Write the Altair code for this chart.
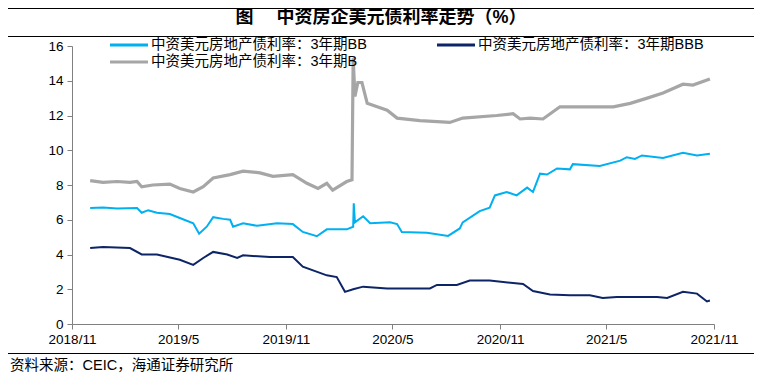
import altair as alt
import pandas as pd

series_names = ["中资美元房地产债利率：3年期BB", "中资美元房地产债利率：3年期BBB", "中资美元房地产债利率：3年期B"]
series_colors = ["#00B0F0", "#0D2566", "#A6A6A6"]
series_widths = [2.0, 2.0, 3.2]

bb_dates = ["2018-12-02","2018-12-24","2019-01-17","2019-02-20","2019-02-28","2019-03-11","2019-03-26","2019-04-17",
            "2019-05-04","2019-05-27","2019-06-06","2019-06-19","2019-06-30","2019-07-17","2019-07-29","2019-08-03",
            "2019-08-20","2019-09-13","2019-10-17","2019-11-13","2019-11-30","2019-12-24","2020-01-10","2020-02-13",
            "2020-02-24","2020-02-25","2020-02-27","2020-03-12","2020-03-24","2020-04-27","2020-05-09","2020-05-17",
            "2020-06-29","2020-08-04","2020-08-24","2020-08-29","2020-09-27","2020-10-14","2020-10-23","2020-11-12",
            "2020-11-29","2020-12-17","2020-12-27","2021-01-08","2021-01-20","2021-02-06","2021-02-28","2021-03-05",
            "2021-04-20","2021-05-25","2021-06-05","2021-06-19","2021-07-01","2021-08-06","2021-09-09","2021-10-03",
            "2021-10-25"]
bb_vals = [6.67,6.70,6.65,6.67,6.40,6.55,6.40,6.33,6.10,5.80,5.20,5.60,6.15,6.05,6.00,5.60,5.80,5.65,5.80,5.75,
           5.30,5.05,5.45,5.45,5.60,6.95,5.85,6.20,5.80,5.85,5.75,5.30,5.25,5.07,5.50,5.85,6.50,6.70,7.40,7.60,
           7.40,7.85,7.60,8.65,8.60,8.95,8.90,9.20,9.10,9.40,9.60,9.50,9.70,9.55,9.85,9.70,9.80]

bbb_dates = ["2018-12-02","2018-12-24","2019-02-08","2019-02-28","2019-03-26","2019-05-04","2019-05-27","2019-06-13",
             "2019-06-30","2019-07-24","2019-08-10","2019-08-20","2019-10-05","2019-11-13","2019-11-30","2020-01-10",
             "2020-01-27","2020-02-10","2020-02-24","2020-03-12","2020-04-22","2020-05-14","2020-07-04","2020-07-16",
             "2020-08-19","2020-09-10","2020-10-14","2020-12-10","2020-12-27","2021-01-25","2021-02-28","2021-04-03",
             "2021-04-25","2021-05-19","2021-07-27","2021-08-13","2021-09-09","2021-10-03","2021-10-20","2021-10-25"]
bbb_vals = [4.37,4.43,4.37,4.00,4.00,3.70,3.40,3.80,4.15,4.00,3.80,3.95,3.85,3.85,3.30,2.80,2.70,1.85,2.00,2.15,
            2.05,2.05,2.05,2.25,2.25,2.50,2.50,2.30,1.90,1.70,1.65,1.65,1.50,1.55,1.55,1.50,1.85,1.75,1.30,1.35]

b_dates = ["2018-12-02","2018-12-24","2019-01-17","2019-02-08","2019-02-20","2019-02-28","2019-03-19","2019-04-17",
           "2019-05-04","2019-05-27","2019-06-13","2019-06-30","2019-07-29","2019-08-20","2019-09-18","2019-10-10",
           "2019-11-13","2019-12-07","2019-12-26","2020-01-10","2020-01-20","2020-02-13","2020-02-22","2020-02-24",
           "2020-02-27","2020-03-03","2020-03-10","2020-03-19","2020-04-05","2020-04-22","2020-05-09","2020-06-17",
           "2020-08-07","2020-08-29","2020-10-26","2020-11-23","2020-12-05","2020-12-22","2021-01-13","2021-02-11",
           "2021-03-17","2021-05-13","2021-06-11","2021-07-10","2021-08-06","2021-09-09","2021-09-26","2021-10-25"]
b_vals = [8.25,8.15,8.20,8.15,8.20,7.90,8.00,8.05,7.80,7.60,7.90,8.40,8.60,8.80,8.70,8.50,8.60,8.10,7.80,8.10,
          7.70,8.20,8.30,15.30,13.10,13.90,13.90,12.70,12.50,12.30,11.85,11.70,11.60,11.85,12.00,12.10,11.80,11.85,
          11.80,12.50,12.50,12.50,12.70,13.00,13.30,13.80,13.75,14.10]

x_tick_dates = [(2018, 11), (2019, 5), (2019, 11), (2020, 5), (2020, 11), (2021, 5), (2021, 11)]
y_ticks = [0, 2, 4, 6, 8, 10, 12, 14, 16]

title_text = "图　 中资房企美元债利率走势（%）"
source_text = "资料来源：CEIC，海通证券研究所"

rows = []
for name, w, ds, vs in zip(series_names, series_widths,
                           [bb_dates, bbb_dates, b_dates], [bb_vals, bbb_vals, b_vals]):
    for d, v in zip(ds, vs):
        rows.append({"date": d, "value": v, "series": name, "w": w})
df = pd.DataFrame(rows)

FONT = "Liberation Sans, Noto Sans CJK SC, sans-serif"

x_vals = [alt.DateTime(year=y, month=m, date=1) for y, m in x_tick_dates]

lines = alt.Chart(df).mark_line(clip=False).encode(
    x=alt.X("date:T",
            scale=alt.Scale(domain=[x_vals[0], x_vals[-1]]),
            axis=alt.Axis(values=x_vals, format="%Y/%-m", title=None, grid=False,
                          labelFont=FONT, labelFontSize=13.5, labelColor="#000000",
                          domainColor="#808080", tickColor="#808080", tickSize=5,
                          labelPadding=3, labelFlush=False, labelOverlap=False)),
    y=alt.Y("value:Q",
            scale=alt.Scale(domain=[0, 16], nice=False, zero=True),
            axis=alt.Axis(values=y_ticks, title=None, grid=False,
                          labelFont=FONT, labelFontSize=13.5, labelColor="#000000",
                          domainColor="#808080", tickColor="#808080", tickSize=5,
                          labelPadding=4)),
    color=alt.Color("series:N", scale=alt.Scale(domain=series_names, range=series_colors), legend=None),
    strokeWidth=alt.StrokeWidth("w:Q", scale=None, legend=None),
)

# manual legend (entry positions in pixels: BB row 1 col 1, BBB row 1 col 2, B row 2 col 1)
legend_slots = [(38, -1), (365, -1), (38, 16)]
legend_layers = []
for name, color, (lx, ly) in zip(series_names, series_colors, legend_slots):
    ld = pd.DataFrame({"series": [name]})
    legend_layers.append(
        alt.Chart(ld).mark_rule(color=color, strokeWidth=3).encode(
            x=alt.value(lx), x2=alt.value(lx + 38), y=alt.value(ly)))
    legend_layers.append(
        alt.Chart(ld).mark_text(font=FONT, fontSize=14.5, color="#000000", align="left", baseline="middle").encode(
            text="series:N", x=alt.value(lx + 41), y=alt.value(ly)))

title = alt.Chart(pd.DataFrame({"t": [title_text]})).mark_text(
    font=FONT, fontSize=18, fontWeight="bold", color="#000000", align="center", baseline="middle"
).encode(text="t:N", x=alt.value(309), y=alt.value(-28))

source = alt.Chart(pd.DataFrame({"t": [source_text]})).mark_text(
    font=FONT, fontSize=14.5, color="#000000", align="left", baseline="middle"
).encode(text="t:N", x=alt.value(-62), y=alt.value(320))

rule_top = alt.Chart(pd.DataFrame({"k": [0]})).mark_rule(color="#000000", strokeWidth=1).encode(
    x=alt.value(-64), x2=alt.value(682), y=alt.value(-37.5))
rule_title = alt.Chart(pd.DataFrame({"k": [0]})).mark_rule(color="#000000", strokeWidth=1).encode(
    x=alt.value(-64), x2=alt.value(682), y=alt.value(-9.5))
rule_bottom = alt.Chart(pd.DataFrame({"k": [0]})).mark_rule(color="#000000", strokeWidth=1).encode(
    x=alt.value(-64), x2=alt.value(682), y=alt.value(307.5))

chart = alt.layer(lines, *legend_layers, title, source, rule_top, rule_title, rule_bottom).properties(
    width=642, height=278,
    padding={"left": 64, "top": 38, "right": 40, "bottom": 49},
    autosize=alt.AutoSizeParams(type="none"),
    background="#ffffff",
).configure_view(stroke=None)

chart.save("out.html", embed_options={"renderer": "svg", "actions": False})
